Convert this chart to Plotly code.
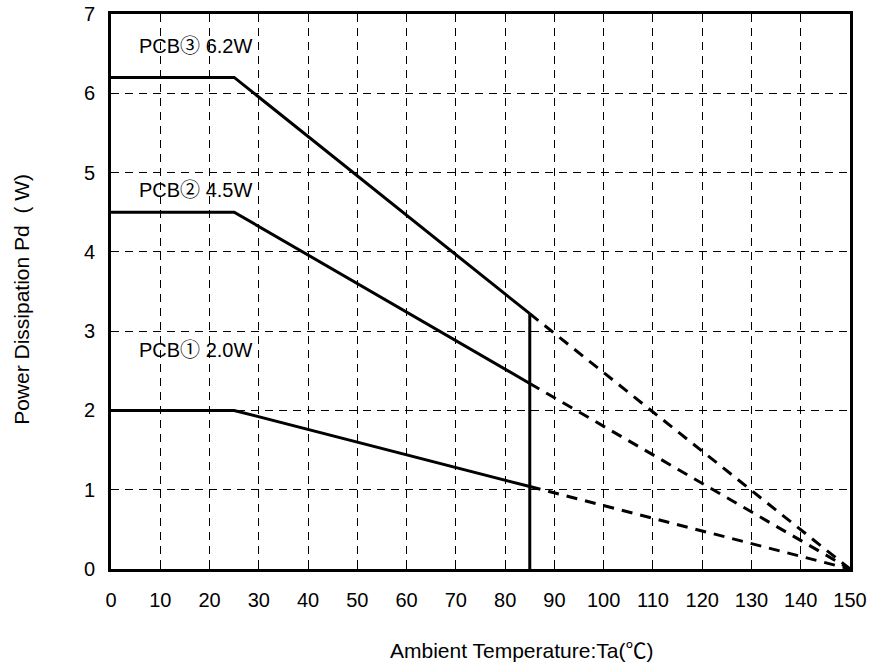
import plotly.graph_objects as go

# Data
temp_solid = [0, 25, 85]
pcb3_solid = [6.2, 6.2, 3.22]
pcb2_solid = [4.5, 4.5, 2.34]
pcb1_solid = [2.0, 2.0, 1.04]

temp_dash = [85, 150]
pcb3_dash = [3.22, 0]
pcb2_dash = [2.34, 0]
pcb1_dash = [1.04, 0]

cut_x = [85, 85]
cut_y = [3.22, 0]

labels = ["PCB③\u00a06.2W", "PCB②\u00a04.5W", "PCB①\u00a02.0W"]
label_x = [5.3, 5.3, 5.3]
label_y = [6.6, 4.78, 2.76]

x_ticks = list(range(0, 151, 10))
y_ticks = list(range(0, 8))

FONT = "Liberation Sans, Arial, Noto Sans CJK JP"

fig = go.Figure()
solid = dict(color="black", width=3)
for ys in [pcb3_solid, pcb2_solid, pcb1_solid]:
    fig.add_trace(go.Scatter(x=temp_solid, y=ys, mode="lines", line=solid, showlegend=False))
for ys in [pcb3_dash, pcb2_dash, pcb1_dash]:
    fig.add_trace(go.Scatter(x=temp_dash, y=ys, mode="lines",
                             line=dict(color="black", width=3, dash="11px,8px"), showlegend=False))
fig.add_trace(go.Scatter(x=cut_x, y=cut_y, mode="lines", line=solid, showlegend=False))

for t, x, y in zip(labels, label_x, label_y):
    fig.add_annotation(x=x, y=y, text=t, showarrow=False, xanchor="left", yanchor="middle",
                       font=dict(family=FONT, size=20, color="black"))

fig.add_annotation(xref="paper", yref="paper", x=0.556, y=-0.146, text="Ambient Temperature:Ta(℃)",
                   showarrow=False, xanchor="center", yanchor="middle",
                   font=dict(family=FONT, size=21, color="black"))
fig.add_annotation(xref="paper", yref="paper", x=-0.1204, y=0.485,
                   text="Power Dissipation Pd\u00a0\u00a0(\u00a0W)",
                   showarrow=False, xanchor="center", yanchor="middle", textangle=-90,
                   font=dict(family=FONT, size=21, color="black"))

fig.update_layout(
    width=871, height=668,
    margin=dict(l=111, r=21, t=14, b=99),
    plot_bgcolor="white", paper_bgcolor="white",
    font=dict(family=FONT, size=20, color="black"),
)
fig.update_xaxes(range=[0, 150], tickvals=x_ticks, showgrid=True, gridcolor="black", gridwidth=1,
                 griddash="8px,6px", showline=True, linecolor="black", linewidth=3, mirror=True,
                 ticks="inside", ticklen=5, tickwidth=1, tickcolor="black", zeroline=False,
                 automargin=False, ticklabelstandoff=11, tickfont=dict(size=20))
fig.update_yaxes(range=[0, 7], tickvals=y_ticks, showgrid=True, gridcolor="black", gridwidth=1,
                 griddash="8px,6px", showline=True, linecolor="black", linewidth=3, mirror=True,
                 ticks="inside", ticklen=5, tickwidth=1, tickcolor="black", zeroline=False,
                 automargin=False, ticklabelstandoff=9, tickfont=dict(size=20))
fig.write_html("out.html", post_script="document.body.style.margin='0';",
               config={"displayModeBar": False})
